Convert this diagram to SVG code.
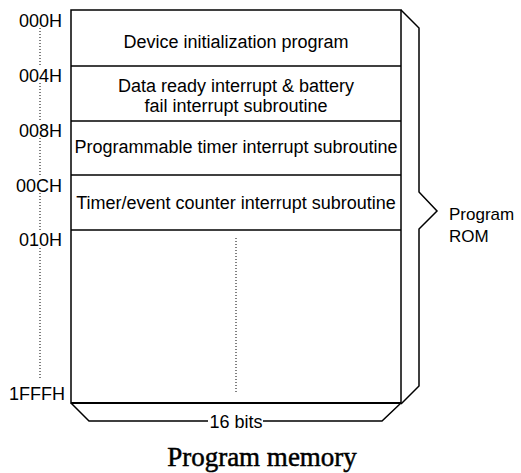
<svg xmlns="http://www.w3.org/2000/svg" width="521" height="473" viewBox="0 0 521 473">
<style>
.t{font-family:"Liberation Sans",Arial,sans-serif;font-size:18px;fill:#000}
.m{text-anchor:middle}
.e{text-anchor:end}
.ln{stroke:#000;stroke-width:1.5;fill:none}
.dot{stroke:#000;stroke-width:1;stroke-dasharray:1,2;fill:none}
</style>
<rect width="521" height="473" fill="#fff"/>
<g id="memory">
<rect x="71" y="10" width="330" height="393" class="ln"/>
<line x1="71" y1="403" x2="401" y2="403" stroke="#000" stroke-width="2"/>
</g>
<g id="row-000">
<text x="236" y="48" class="t m">Device initialization program</text>
</g>
<g id="row-004">
<line x1="71" y1="66" x2="401" y2="66" class="ln"/>
<text x="236" y="92" class="t m">Data ready interrupt &amp; battery</text>
<text x="236" y="112" class="t m">fail interrupt subroutine</text>
</g>
<g id="row-008">
<line x1="71" y1="121" x2="401" y2="121" class="ln"/>
<text x="236" y="153" class="t m">Programmable timer interrupt subroutine</text>
</g>
<g id="row-00C">
<line x1="71" y1="175" x2="401" y2="175" class="ln"/>
<text x="236" y="209" class="t m">Timer/event counter interrupt subroutine</text>
</g>
<g id="row-010">
<line x1="71" y1="230" x2="401" y2="230" class="ln"/>
<line x1="236" y1="238" x2="236" y2="393" class="dot"/>
</g>
<g id="addresses">
<text x="62" y="27" class="t e">000H</text>
<text x="62" y="82" class="t e">004H</text>
<text x="62" y="137" class="t e">008H</text>
<text x="62" y="192" class="t e">00CH</text>
<text x="62" y="246" class="t e">010H</text>
<text x="65" y="400" class="t e">1FFFH</text>
<path d="M40 28V67M40 83V122M40 138V177M40 193V232M40 248V380" class="dot"/>
</g>
<g id="rom-brace">
<path d="M401 10L419 28V192L437 211L419 229V386L401 404" class="ln"/>
<text x="449" y="220" class="t" style="font-size:17px">Program</text>
<text x="449" y="242" class="t" style="font-size:17px">ROM</text>
</g>
<g id="width-brace">
<path d="M71 403L89 421H208M263 421H382L401 403" class="ln"/>
<text x="236" y="428" class="t m">16 bits</text>
</g>
<text x="262" y="466" text-anchor="middle" style="font-family:'Liberation Serif','Times New Roman',serif;font-size:27px;stroke:#000;stroke-width:0.5">Program memory</text>
</svg>
